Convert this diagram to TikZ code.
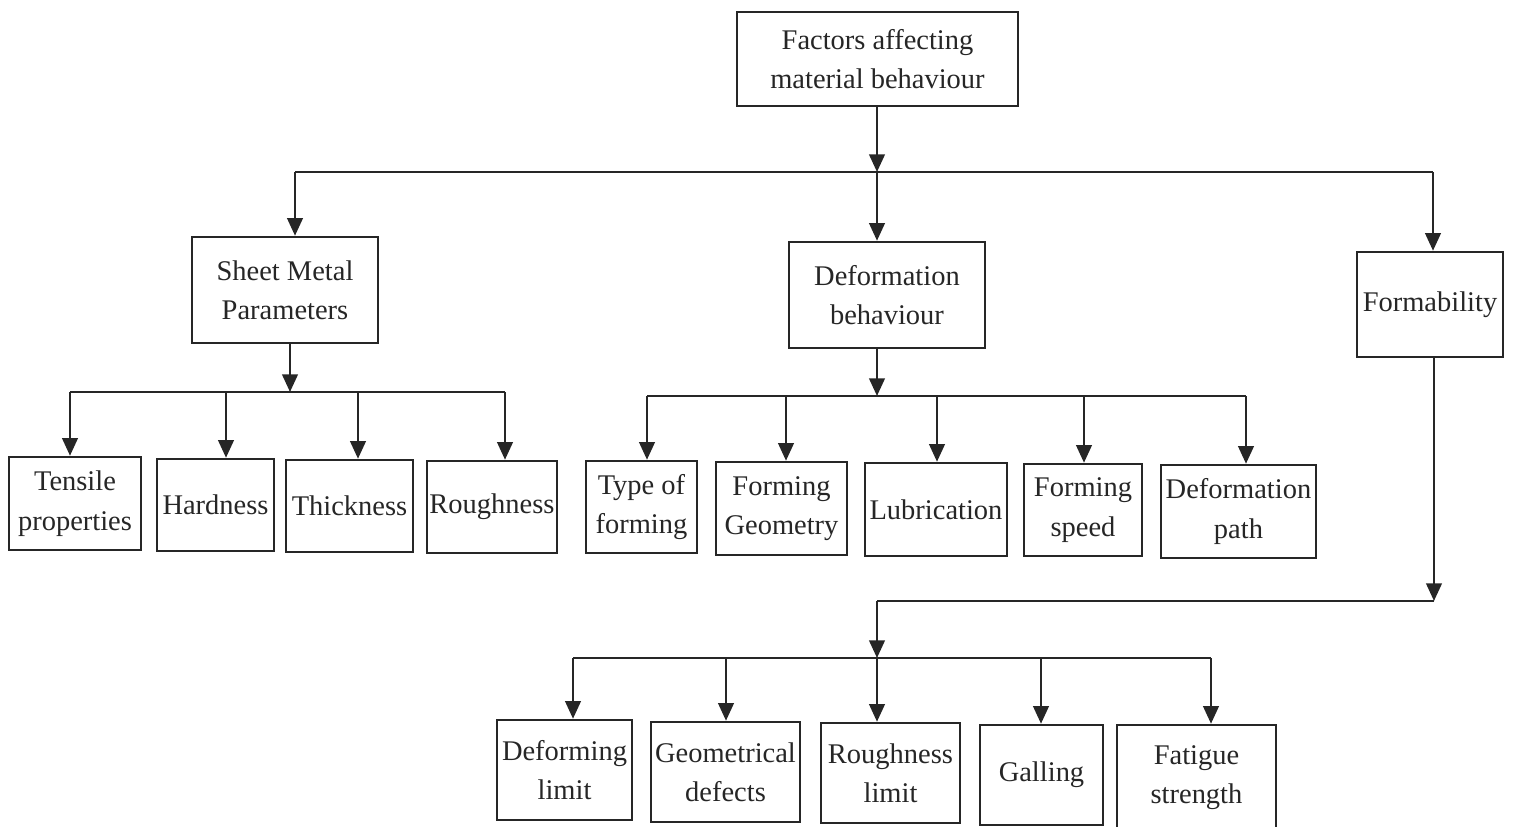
\documentclass[tikz,border=0pt]{standalone}
\usepackage{fontspec}
\setmainfont{Liberation Serif}
\usetikzlibrary{arrows.meta}
\colorlet{ink}{black!85}

\begin{document}
\begin{tikzpicture}[x=0.01cm,y=-0.01cm,
    box/.style={draw=ink,line width=0.7pt,align=center,inner sep=0.5pt,text=ink,
                font=\fontsize{8.1}{11.2}\selectfont},
    wire/.style={draw=ink,line width=0.7pt},
    arr/.style={wire,-{Triangle[width=4.4pt,length=5pt]}}]
        \useasboundingbox (0,0) rectangle (1517,827);
        % top level
        \node[box,minimum width=2.81cm,minimum height=0.94cm] (fact) at (877.5,59) {Factors affecting\\material behaviour};
        \node[box,minimum width=1.86cm,minimum height=1.06cm] (smp) at (285,290) {Sheet Metal\\Parameters};
        \node[box,minimum width=1.96cm,minimum height=1.06cm] (deb) at (887,295) {Deformation\\behaviour};
        \node[box,minimum width=1.46cm,minimum height=1.05cm] (form) at (1430,304.5) {Formability};
        % sheet metal row
        \node[box,minimum width=1.32cm,minimum height=0.93cm] (tens) at (75,503.5) {Tensile\\properties};
        \node[box,minimum width=1.17cm,minimum height=0.92cm] (hard) at (215.5,505) {Hardness};
        \node[box,minimum width=1.27cm,minimum height=0.92cm] (thick) at (349.5,506) {Thickness};
        \node[box,minimum width=1.30cm,minimum height=0.92cm] (rough) at (492,507) {Roughness};
        % deformation row
        \node[box,minimum width=1.11cm,minimum height=0.92cm] (type) at (641.5,507) {Type of\\forming};
        \node[box,minimum width=1.31cm,minimum height=0.93cm] (fgeo) at (781.5,508.5) {Forming\\Geometry};
        \node[box,minimum width=1.42cm,minimum height=0.93cm] (lub) at (936,509.5) {Lubrication};
        \node[box,minimum width=1.18cm,minimum height=0.92cm] (speed) at (1083,510) {Forming\\speed};
        \node[box,minimum width=1.55cm,minimum height=0.93cm] (path) at (1238.5,511.5) {Deformation\\path};
        % formability row
        \node[box,minimum width=1.35cm,minimum height=1.00cm] (dlim) at (564.5,770) {Deforming\\limit};
        \node[box,minimum width=1.49cm,minimum height=1.00cm] (gdef) at (725.5,772) {Geometrical\\defects};
        \node[box,minimum width=1.39cm,minimum height=1.00cm] (rlim) at (890.5,773) {Roughness\\limit};
        \node[box,minimum width=1.23cm,minimum height=1.00cm] (gall) at (1041.5,775) {Galling};
        \node[box,minimum width=1.59cm,minimum height=1.05cm] (fat) at (1196.5,777.5) {Fatigue\\strength};

        % main bus
        \coordinate (j0) at (877,172);
        \coordinate (j1) at (295,172);
        \coordinate (j3) at (1433,172);
        \draw[arr] (j0 |- fact.south) -- (j0);
        \draw[wire] (j1) -- (j3);
        \draw[arr] (j1) -- (j1 |- smp.north);
        \draw[arr] (j0) -- (j0 |- deb.north);
        \draw[arr] (j3) -- (j3 |- form.north);

        % sheet metal bus
        \coordinate (s0) at (290,392);
        \draw[arr] (s0 |- smp.south) -- (s0);
        \draw[wire] (70,392) -- (505,392);
        \foreach \n/\x in {tens/70,hard/226,thick/358,rough/505} {
            \coordinate (s\n) at (\x,392);
            \draw[arr] (s\n) -- (s\n |- \n.north);
        }

        % deformation bus
        \coordinate (d0) at (877,396);
        \draw[arr] (d0 |- deb.south) -- (d0);
        \draw[wire] (647,396) -- (1246,396);
        \foreach \n/\x in {type/647,fgeo/786,lub/937,speed/1084,path/1246} {
            \coordinate (d\n) at (\x,396);
            \draw[arr] (d\n) -- (d\n |- \n.north);
        }

        % formability bus
        \coordinate (f1) at (1434,601);
        \coordinate (f2) at (877,601);
        \coordinate (k0) at (877,658);
        \draw[arr] (f1 |- form.south) -- (f1);
        \draw[wire] (f1) -- (f2);
        \draw[arr] (f2) -- (k0);
        \draw[wire] (573,658) -- (1211,658);
        \foreach \n/\x in {dlim/573,gdef/726,rlim/877,gall/1041,fat/1211} {
            \coordinate (k\n) at (\x,658);
            \draw[arr] (k\n) -- (k\n |- \n.north);
        }
    \end{tikzpicture}
\end{document}
